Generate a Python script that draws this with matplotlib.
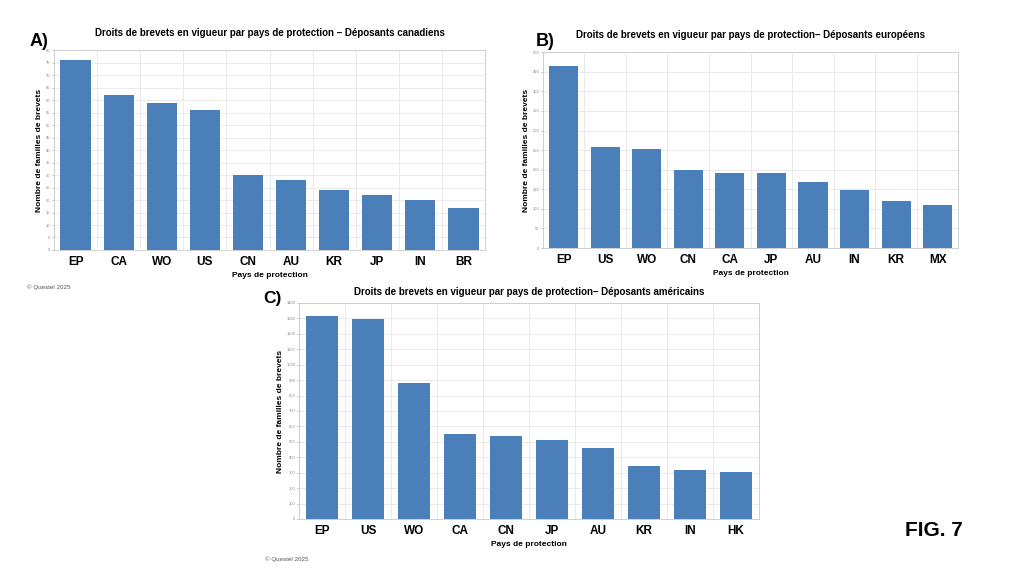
import matplotlib
matplotlib.use('Agg')
import matplotlib.pyplot as plt
import numpy as np

plt.rcParams['font.family'] = ['Liberation Sans', 'DejaVu Sans']

# panel A - canadian applicants
pays_a = ['EP', 'CA', 'WO', 'US', 'CN', 'AU', 'KR', 'JP', 'IN', 'BR']
val_a = [76, 62, 59, 56, 30, 28, 24, 22, 20, 17]
# panel B - european applicants
pays_b = ['EP', 'US', 'WO', 'CN', 'CA', 'JP', 'AU', 'IN', 'KR', 'MX']
val_b = [465, 259, 252, 199, 192, 192, 168, 147, 119, 111]
# panel C - american applicants
pays_c = ['EP', 'US', 'WO', 'CA', 'CN', 'JP', 'AU', 'KR', 'IN', 'HK']
val_c = [1316, 1297, 881, 553, 536, 510, 463, 342, 317, 304]

titre_a = 'Droits de brevets en vigueur par pays de protection – Déposants canadiens'
titre_b = 'Droits de brevets en vigueur par pays de protection– Déposants européens'
titre_c = 'Droits de brevets en vigueur par pays de protection– Déposants américains'

bleu = '#4a7fba'
grille = '#e6e6e6'


def panneau(ax, pays, vals, ymax, pas, titre, pad_titre=10):
    x = np.arange(len(pays))
    ax.bar(x, vals, width=0.7, color=bleu, zorder=3)
    ax.set_xlim(-0.5, len(pays) - 0.5)
    ax.set_ylim(0, ymax)
    ax.set_yticks(np.arange(0, ymax + 1, pas))
    ax.set_xticks(x)
    ax.set_xticklabels(pays, fontsize=8.5, fontweight='bold')
    ax.set_xticks(np.arange(-0.5, len(pays)), minor=True)
    ax.grid(True, which='minor', axis='x', color=grille, lw=0.6, zorder=0)
    ax.grid(True, which='major', axis='y', color=grille, lw=0.6, zorder=0)
    ax.tick_params(axis='y', labelsize=3, colors='#888888', length=1.5, width=0.4, pad=1)
    ax.tick_params(axis='x', length=0, pad=4)
    ax.tick_params(axis='x', which='minor', length=0)
    for s in ax.spines.values():
        s.set_color('#d0d0d0')
        s.set_linewidth(0.7)
    ax.set_ylabel('Nombre de familles de brevets', fontsize=6, fontweight='bold', labelpad=2)
    ax.set_xlabel('Pays de protection', fontsize=6, fontweight='bold', labelpad=3)
    ax.set_title(titre, fontsize=7, fontweight='bold', pad=pad_titre)


fig = plt.figure(figsize=(10.24, 5.76), dpi=100)

ax_a = fig.add_axes([0.0527, 0.566, 0.421, 0.347])
panneau(ax_a, pays_a, val_a, 80, 5, titre_a)

ax_b = fig.add_axes([0.530, 0.5694, 0.406, 0.340])
panneau(ax_b, pays_b, val_b, 500, 50, titre_b)

ax_c = fig.add_axes([0.292, 0.099, 0.449, 0.375])
panneau(ax_c, pays_c, val_c, 1400, 100, titre_c, pad_titre=6)

fig.text(30 / 1024, 1 - 42 / 576, 'A)', fontsize=13, fontweight='bold', va='center')
fig.text(536 / 1024, 1 - 42 / 576, 'B)', fontsize=13, fontweight='bold', va='center')
fig.text(263 / 1024, 1 - 298 / 576, 'C)', fontsize=12.5, fontweight='bold', va='center')

fig.text(27 / 1024, 1 - 287 / 576, '© Questel 2025', fontsize=4.5, color='#555555', va='center')
fig.text(265 / 1024, 1 - 559 / 576, '© Questel 2025', fontsize=4.5, color='#555555', va='center')

fig.text(905 / 1024, 1 - 531 / 576, 'FIG. 7', fontsize=15, fontweight='bold', va='center')

fig.savefig('out.png', dpi=100, facecolor='white')
